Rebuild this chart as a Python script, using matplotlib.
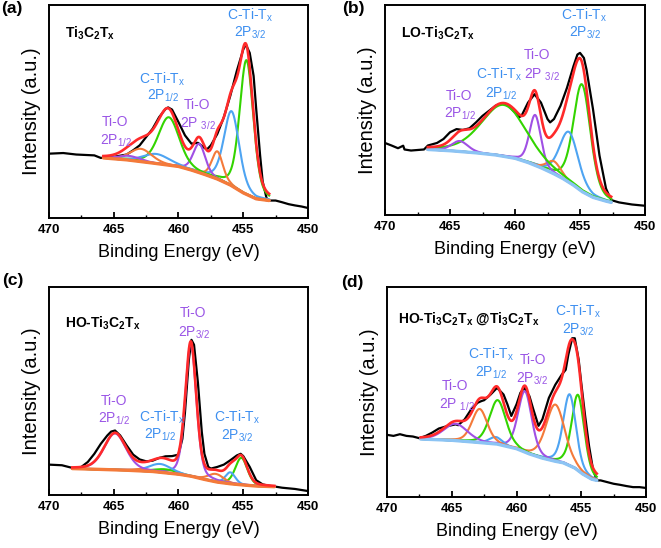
import numpy as np
import matplotlib
matplotlib.use('Agg')
import matplotlib.pyplot as plt

plt.rcParams['font.family'] = ['Liberation Sans', 'DejaVu Sans']
plt.rcParams['mathtext.fontset'] = 'custom'
plt.rcParams['mathtext.rm'] = 'Liberation Sans'
plt.rcParams['mathtext.it'] = 'Liberation Sans:italic'
plt.rcParams['mathtext.bf'] = 'Liberation Sans:bold'
plt.rcParams['mathtext.default'] = 'regular'

# ---------------- data ----------------
components = ['Ti-C 2p3/2', 'Ti2+ 2p3/2', 'Ti3+ 2p3/2', 'TiO2 2p3/2',
              'Ti-C 2p1/2', 'Ti2+ 2p1/2', 'Ti3+ 2p1/2', 'TiO2 2p1/2']

# panel (a) Ti3C2Tx
a_raw_x = [470.0, 468.9, 467.9, 466.5, 466.0, 465.0, 464.0, 463.5, 463.0, 462.5, 462.0, 461.5,
           461.0, 460.8, 460.5, 460.0, 459.5, 459.0, 458.5, 458.0, 457.8, 457.5, 457.0, 456.5,
           456.0, 455.5, 455.0, 454.8, 454.5, 454.2, 454.0, 453.7, 453.5, 453.2, 453.0, 452.5,
           452.0, 451.5, 451.0, 450.5, 450.0]
a_raw_y = [30.2, 30.5, 29.8, 29.4, 28.2, 28.7, 29.8, 31.8, 34.1, 38.0, 41.9, 47.3,
           51.2, 51.9, 50.9, 45.0, 38.8, 34.9, 35.3, 32.9, 32.2, 34.1, 39.5, 47.3,
           57.4, 69.0, 79.1, 81.4, 77.5, 66.7, 51.2, 29.5, 17.1, 9.3, 8.2, 8.2,
           7.4, 6.5, 5.9, 5.4, 4.7]
a_bg_x = [465.8, 464.0, 462.0, 460.0, 459.0, 458.0, 457.0, 456.0, 455.0, 454.0, 453.0]
a_bg_y = [28.2, 27.3, 25.8, 24.2, 22.5, 20.5, 18.3, 15.5, 11.8, 9.0, 8.2]
a_center = [454.75, 455.9, 457.0, 458.4, 460.75, 461.7, 462.9, 463.8]
a_height = [63.0, 35.0, 13.0, 13.5, 22.5, 4.5, 6.0, 2.0]
a_fwhm = [1.25, 1.4, 1.0, 1.1, 1.9, 2.4, 2.0, 2.0]

# panel (b) LO-Ti3C2Tx
b_raw_x = [470.0, 469.5, 469.0, 468.6, 468.5, 468.0, 467.0, 466.7, 466.0, 465.5, 465.0, 464.5,
           464.0, 463.5, 463.0, 462.5, 462.0, 461.5, 461.0, 460.5, 460.0, 459.7, 459.5, 459.0,
           458.5, 458.0, 457.5, 457.3, 457.0, 456.5, 456.0, 455.5, 455.2, 455.0, 454.7, 454.5,
           454.0, 453.5, 453.0, 452.6, 452.0, 451.0, 450.0]
b_raw_y = [34.3, 33.1, 31.8, 33.0, 31.2, 30.7, 31.2, 33.1, 34.3, 36.2, 39.4, 40.9,
           40.5, 41.3, 44.1, 47.2, 49.6, 52.0, 53.2, 52.0, 48.8, 46.5, 47.2, 53.5,
           57.5, 53.5, 45.7, 44.1, 45.7, 52.0, 60.6, 70.9, 76.4, 77.2, 74.8, 69.3,
           50.4, 28.3, 12.6, 7.1, 6.0, 5.0, 4.4]
b_bg_x = [466.7, 465.0, 463.0, 461.5, 460.0, 459.0, 458.0, 457.0, 456.3, 455.5, 454.8, 454.0, 453.0, 452.6]
b_bg_y = [31.2, 30.6, 29.6, 28.6, 27.0, 25.0, 22.5, 19.6, 17.3, 14.2, 11.0, 8.4, 6.6, 6.0]
b_center = [454.85, 455.85, 457.0, 458.45, 460.85, 461.5, 463.0, 464.25]
b_height = [51.0, 24.0, 6.0, 24.0, 24.5, 0.0, 0.0, 5.0]
b_fwhm = [1.55, 1.7, 1.3, 1.05, 4.1, 2.0, 2.0, 1.5]

# panel (c) HO-Ti3C2Tx
c_raw_x = [470.0, 469.0, 468.5, 468.0, 467.5, 467.0, 466.5, 466.0, 465.5, 465.2, 464.9, 464.5,
           464.0, 463.5, 463.0, 462.5, 462.0, 461.5, 461.0, 460.5, 460.0, 459.7, 459.5, 459.2,
           459.0, 458.8, 458.5, 458.2, 458.0, 457.7, 457.5, 457.0, 456.5, 456.0, 455.5, 455.2,
           455.0, 454.5, 454.0, 453.5, 453.0, 452.5, 452.0, 451.0, 450.0]
c_raw_y = [14.6, 14.3, 13.5, 12.7, 13.5, 15.9, 19.8, 24.6, 28.6, 30.5, 31.0, 28.6,
           23.8, 19.4, 17.1, 16.2, 16.5, 17.8, 18.6, 18.7, 19.4, 27.0, 39.7, 65.1,
           74.6, 72.2, 54.0, 30.2, 19.8, 13.5, 12.7, 13.5, 14.6, 16.7, 19.0, 19.8,
           18.7, 13.5, 7.1, 5.1, 4.4, 4.0, 3.5, 2.9, 1.9]
c_bg_x = [468.2, 466.0, 464.0, 462.0, 460.0, 459.0, 458.0, 457.0, 456.0, 455.0, 454.0, 452.6]
c_bg_y = [12.7, 12.3, 11.9, 11.3, 10.0, 9.0, 7.5, 6.2, 5.4, 4.8, 4.3, 4.0]
c_center = [455.15, 456.0, 457.1, 459.05, 461.0, 461.4, 462.8, 464.9]
c_height = [13.0, 5.5, 3.8, 64.0, 1.7, 4.0, 1.0, 17.5]
c_fwhm = [1.1, 0.9, 1.4, 1.0, 2.0, 2.0, 1.5, 2.0]

# panel (d) HO-Ti3C2Tx@Ti3C2Tx
d_raw_x = [470.0, 469.5, 469.0, 468.5, 468.0, 467.5, 467.0, 466.5, 466.0, 465.5, 465.0, 464.7,
           464.5, 464.0, 463.5, 463.0, 462.7, 462.5, 462.0, 461.5, 461.0, 460.7, 460.4, 460.0,
           459.7, 459.4, 459.0, 458.7, 458.3, 458.0, 457.5, 457.0, 456.5, 456.2, 456.0, 455.7,
           455.5, 455.2, 455.0, 454.7, 454.4, 454.1, 453.8, 453.5, 453.0, 452.5, 452.0, 451.5,
           451.0, 450.5, 450.0]
d_raw_y = [29.6, 29.1, 29.9, 29.1, 28.8, 28.0, 29.1, 30.7, 32.6, 33.5, 34.2, 34.6,
           34.2, 37.0, 41.7, 44.9, 45.7, 46.1, 48.8, 52.0, 48.8, 44.1, 38.6, 44.1,
           49.6, 52.0, 48.0, 41.7, 33.9, 37.0, 47.2, 53.5, 58.3, 60.6, 67.7, 75.6,
           75.6, 65.4, 54.3, 38.6, 24.4, 13.4, 7.9, 7.9, 7.1, 6.3, 5.8, 5.2,
           4.7, 4.7, 4.3]
d_bg_x = [467.4, 465.0, 463.0, 461.5, 460.0, 459.0, 458.0, 457.0, 456.4, 455.5, 454.9, 454.2, 453.8]
d_bg_y = [27.6, 27.0, 26.0, 25.2, 23.0, 20.5, 18.5, 17.0, 16.3, 13.8, 11.0, 8.5, 7.9]
d_center = [455.25, 455.9, 457.0, 459.35, 461.45, 461.6, 462.85, 464.7]
d_height = [36.0, 34.0, 27.0, 29.0, 21.0, 3.3, 16.0, 8.0]
d_fwhm = [1.15, 1.15, 1.7, 1.25, 1.5, 1.2, 1.4, 2.2]

sample_names = ['Ti$_3$C$_2$T$_x$', 'LO-Ti$_3$C$_2$T$_x$', 'HO-Ti$_3$C$_2$T$_x$',
                'HO-Ti$_3$C$_2$T$_x$ @Ti$_3$C$_2$T$_x$']
panel_tags = ['(a)', '(b)', '(c)', '(d)']
xticks = [470, 465, 460, 455, 450]

# ---------------- styles ----------------
comp_colors = ['#33d400', '#4ea4f2', '#f47a3a', '#a050e4',
               '#33d400', '#4ea4f2', '#f47a3a', '#a050e4']
bg_colors = ['#f47a3a', '#8cc4f4', '#f47a3a', '#8cc4f4']
blue_txt = '#3d8ff0'
purple_txt = '#9a55e6'
W, H = 661, 548
boxes = [(49, 5, 308, 218), (385, 5, 645, 215), (49, 287, 308, 495), (387, 287, 646, 497)]
tag_pos = [(12, 8), (353, 8), (13, 280), (352, 282)]

annots = [
    [('C-Ti-T$_x$', 454.5, 95.3, blue_txt), ('2P$_{3/2}$', 454.5, 86.8, blue_txt),
     ('C-Ti-T$_x$', 461.3, 65.1, blue_txt), ('2P$_{1/2}$', 461.2, 57.2, blue_txt),
     ('Ti-O', 458.6, 53.0, purple_txt), ('2P $_{3/2}$', 458.5, 44.2, purple_txt),
     ('Ti-O', 464.9, 45.0, purple_txt), ('2P$_{1/2}$', 464.8, 36.4, purple_txt)],
    [('C-Ti-T$_x$', 454.65, 95.3, blue_txt), ('2P$_{3/2}$', 454.65, 86.6, blue_txt),
     ('Ti-O', 458.3, 76.4, purple_txt), ('2P $_{3/2}$', 457.95, 66.6, purple_txt),
     ('C-Ti-T$_x$', 461.2, 67.0, blue_txt), ('2P$_{1/2}$', 461.1, 57.6, blue_txt),
     ('Ti-O', 464.3, 56.7, purple_txt), ('2P$_{1/2}$', 464.2, 48.0, purple_txt)],
    [('Ti-O', 458.9, 87.3, purple_txt), ('2P$_{3/2}$', 458.8, 77.8, purple_txt),
     ('Ti-O', 464.95, 45.2, purple_txt), ('2P$_{1/2}$', 465.0, 36.5, purple_txt),
     ('C-Ti-T$_x$', 461.3, 37.5, blue_txt), ('2P$_{1/2}$', 461.4, 28.8, blue_txt),
     ('C-Ti-T$_x$', 455.5, 37.3, blue_txt), ('2P$_{3/2}$', 455.5, 28.6, blue_txt)],
    [('C-Ti-T$_x$', 455.25, 88.6, blue_txt), ('2P$_{3/2}$', 455.25, 79.8, blue_txt),
     ('C-Ti-T$_x$', 461.95, 68.0, blue_txt), ('2P$_{1/2}$', 462.0, 59.0, blue_txt),
     ('Ti-O', 458.7, 65.4, purple_txt), ('2P$_{3/2}$', 458.8, 56.2, purple_txt),
     ('Ti-O', 464.75, 52.8, purple_txt), ('2P $_{1/2}$', 464.6, 44.1, purple_txt)],
]

raws = [(a_raw_x, a_raw_y), (b_raw_x, b_raw_y), (c_raw_x, c_raw_y), (d_raw_x, d_raw_y)]
bgs = [(a_bg_x, a_bg_y), (b_bg_x, b_bg_y), (c_bg_x, c_bg_y), (d_bg_x, d_bg_y)]
peaks = [(a_center, a_height, a_fwhm), (b_center, b_height, b_fwhm),
         (c_center, c_height, c_fwhm), (d_center, d_height, d_fwhm)]

GL = 0.3  # Lorentzian fraction of the pseudo-Voigt line shape


def line_shape(x, c, h, w):
    t = (x - c) / w
    return h * ((1 - GL) * np.exp(-4 * np.log(2) * t ** 2) + GL / (1 + 4 * t ** 2))


fig = plt.figure(figsize=(W / 100, H / 100), dpi=100)
for i in range(4):
    l, t, r, b = boxes[i]
    ax = fig.add_axes([l / W, 1 - b / H, (r - l) / W, (b - t) / H])
    rx, ry = raws[i]
    bx, by = bgs[i]
    ax.plot(rx, ry, color='black', lw=1.6, zorder=2)
    grid = np.linspace(bx[0], bx[-1], 600)
    base = np.interp(grid, bx[::-1], by[::-1])
    cen, hei, fw = peaks[i]
    total = base.copy()
    for k in range(len(cen)):
        if hei[k] <= 0:
            continue
        p = line_shape(grid, cen[k], hei[k], fw[k])
        total += p
        ax.plot(grid, base + p, color=comp_colors[k], lw=1.5, zorder=3)
    ax.plot(bx, by, color=bg_colors[i], lw=2.4, zorder=4, solid_capstyle='round')
    ax.plot(grid, total, color='#ff2a2a', lw=1.9, zorder=5)

    ax.set_xlim(470, 450)
    ax.set_ylim(0, 100)
    ax.set_xticks(xticks)
    ax.set_xticks([467.5, 462.5, 457.5, 452.5], minor=True)
    ax.set_yticks([])
    ax.tick_params(axis='x', which='major', direction='in', length=4, width=1.3,
                   labelsize=9.5, pad=4)
    ax.tick_params(axis='x', which='minor', direction='in', length=2, width=1.0)
    for lab in ax.get_xticklabels():
        lab.set_fontweight('bold')
    for s in ax.spines.values():
        s.set_linewidth(1.4)
    ax.set_xlabel('Binding Energy (eV)', fontsize=13, labelpad=6)
    ax.set_ylabel('Intensity (a.u.)', fontsize=14.5, labelpad=6)

    ax.text(468.8 if i != 3 else 469.15, [86.8, 86.6, 82.5, 85.0][i], sample_names[i],
            fontsize=10, fontweight='bold', ha='left', va='center', zorder=6)
    for txt, x, y, col in annots[i]:
        ax.text(x, y, txt, color=col, fontsize=10, ha='center', va='center', zorder=6)
    fig.text(tag_pos[i][0] / W, 1 - tag_pos[i][1] / H, panel_tags[i], fontsize=12.5,
             fontweight='bold', ha='center', va='center')

fig.savefig('out.png', dpi=100)
